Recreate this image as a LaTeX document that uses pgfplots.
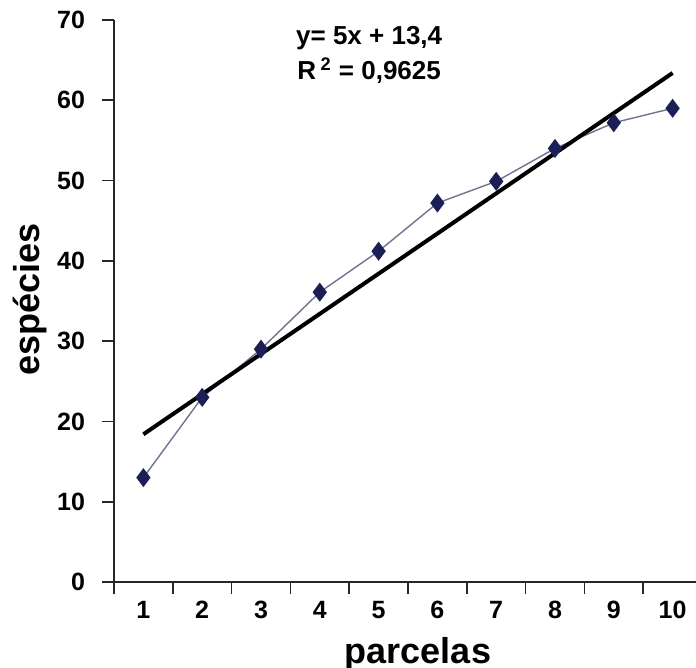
\documentclass[border=0pt]{standalone}
\usepackage{fontspec}
\setmainfont{Liberation Sans}
\usepackage{pgfplots}
\pgfplotsset{compat=1.18}
\definecolor{mk}{HTML}{1C1F55}
\definecolor{ln}{HTML}{6C7590}
\begin{document}
\begin{tikzpicture}
\path[use as bounding box] (-57pt,-43pt) rectangle (291pt,291pt);
\begin{axis}[
  scale only axis,
  width=294pt, height=281pt,
  xmin=0.5, xmax=10.5, ymin=0, ymax=70,
  axis x line=bottom, axis y line=left,
  axis line style={-, line width=0.8pt, color=black!85},
  tick align=outside,
  major tick length=6pt,
  tick style={line width=0.8pt, color=black!85},
  ytick={0,10,...,70},
  xtick={0.5,1.5,...,10.5},
  xticklabels={},
  extra x ticks={1,2,...,10},
  extra x tick labels={1,2,3,4,5,6,7,8,9,10},
  extra x tick style={major tick length=0pt, tick label style={yshift=-6pt}},
  /pgf/number format/assume math mode=true,
  tick label style={font=\fontsize{12.5}{14}\selectfont\bfseries},
  yticklabel style={xshift=-5pt},
  xlabel={parcelas}, ylabel={espécies},
  label style={font=\fontsize{18}{20}\selectfont\bfseries},
  xlabel style={at={(axis description cs:0.517,0)}, anchor=center, yshift=-36pt},
  ylabel style={at={(axis description cs:0,0.502)}, anchor=center, rotate=0, yshift=42pt},
  clip=false,
]
\addplot[color=ln, line width=0.7pt, mark=diamond*, mark size=4.2pt,
  mark options={fill=mk, draw=mk}] coordinates {
  (1,13) (2,23) (3,29) (4,36.1) (5,41.2) (6,47.2) (7,49.9) (8,54) (9,57.2) (10,59)
};
\addplot[black, line width=2pt, no marks] coordinates {(1,18.4) (10,63.4)};
\node[align=center, font=\fontsize{13}{17.5}\selectfont\bfseries] at (axis cs:4.84,65.7)
  {y= 5x + 13,4\\R\,\textsuperscript{2} = 0,9625};
\end{axis}
\end{tikzpicture}
\end{document}
